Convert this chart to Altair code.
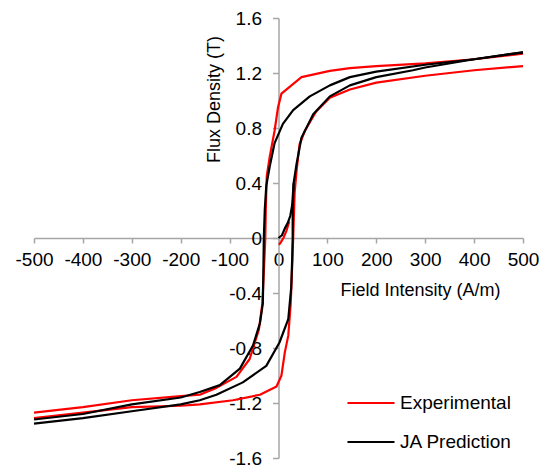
import altair as alt
import pandas as pd

# ---- data (H in A/m, B in T) ----
red_desc_H = [500, 400, 300, 200, 146, 105, 47, 6, -1, -8, -18, -24, -26, -27, -30, -33, -40, -59, -86, -127, -161, -200, -300, -400, -500]
red_desc_B = [1.34, 1.30, 1.27, 1.25, 1.235, 1.215, 1.17, 1.05, 0.95, 0.78, 0.59, 0.45, 0.21, 0.0, -0.25, -0.475, -0.665, -0.88, -1.01, -1.09, -1.14, -1.15, -1.18, -1.23, -1.27]

red_asc_H = [-500, -400, -300, -200, -161, -93, -38, -4, 6, 13, 20, 25, 28, 30, 33, 37, 43, 54, 77, 105, 146, 200, 300, 400, 500]
red_asc_B = [-1.31, -1.27, -1.23, -1.22, -1.21, -1.18, -1.14, -1.08, -1.0, -0.83, -0.71, -0.475, -0.2, 0.0, 0.33, 0.49, 0.68, 0.78, 0.92, 1.02, 1.08, 1.13, 1.18, 1.22, 1.25]

red_init_H = [1, 5, 10, 16, 22]
red_init_B = [-0.05, -0.03, 0.0, 0.05, 0.12]

ja_desc_H = [500, 400, 300, 200, 146, 105, 64, 30, 9, -8, -18, -25, -28, -30, -31, -32, -38, -52, -79, -120, -161, -200, -300, -400, -500]
ja_desc_B = [1.35, 1.30, 1.26, 1.21, 1.17, 1.11, 1.03, 0.93, 0.83, 0.69, 0.52, 0.38, 0.21, 0.0, -0.25, -0.475, -0.62, -0.78, -0.95, -1.07, -1.12, -1.16, -1.21, -1.28, -1.32]

ja_asc_H = [-500, -400, -300, -200, -161, -127, -73, -25, 2, 20, 26, 28, 29, 29, 31, 37, 47, 71, 105, 146, 200, 275, 300, 400, 500]
ja_asc_B = [-1.35, -1.31, -1.26, -1.21, -1.18, -1.14, -1.05, -0.93, -0.76, -0.59, -0.36, -0.15, 0.0, 0.2, 0.40, 0.54, 0.73, 0.90, 1.03, 1.11, 1.17, 1.22, 1.24, 1.30, 1.35]

ja_init_H = [0, 7, 13, 19, 24, 28, 31]
ja_init_B = [0.0, 0.02, 0.07, 0.11, 0.16, 0.24, 0.40]

series_names = ["Experimental", "JA Prediction"]
series_colors = ["#ff0000", "#000000"]

x_ticks = [-500, -400, -300, -200, -100, 0, 100, 200, 300, 400, 500]
y_ticks = [-1.6, -1.2, -0.8, -0.4, 0, 0.4, 0.8, 1.2, 1.6]

curves = [
    ("Experimental", "red_desc", red_desc_H, red_desc_B),
    ("Experimental", "red_asc", red_asc_H, red_asc_B),
    ("Experimental", "red_init", red_init_H, red_init_B),
    ("JA Prediction", "ja_desc", ja_desc_H, ja_desc_B),
    ("JA Prediction", "ja_asc", ja_asc_H, ja_asc_B),
    ("JA Prediction", "ja_init", ja_init_H, ja_init_B),
]
rows = []
k = 0
for s, seg, hs, bs in curves:
    for h, b in zip(hs, bs):
        rows.append({"series": s, "seg": seg, "H": h, "B": b, "i": k})
        k += 1
df = pd.DataFrame(rows)

W, H = 489, 440
FONT = "Liberation Sans"
AX = "#a6a6a6"

chart = alt.Chart(df).mark_line(strokeWidth=2.2, strokeJoin="round").encode(
    x=alt.X("H:Q", scale=alt.Scale(domain=[-500, 500], nice=False, zero=False),
            axis=alt.Axis(values=x_ticks, offset=-H / 2, orient="bottom", grid=False,
                          title="Field Intensity (A/m)", titleX=386, titleY=52,
                          titleAlign="center", titleBaseline="middle",
                          titleFontSize=18, titleFontWeight="normal",
                          labelExpr="'' + datum.value", labelPadding=7,
                          labelOverlap=False, labelFlush=False,
                          tickSize=5)),
    y=alt.Y("B:Q", scale=alt.Scale(domain=[-1.6, 1.6], nice=False, zero=False),
            axis=alt.Axis(values=y_ticks, offset=-W / 2, orient="left", grid=False,
                          title="Flux Density (T)", titleX=-64, titleY=81,
                          titleAngle=-90, titleAlign="center", titleBaseline="middle",
                          titleFontSize=18, titleFontWeight="normal",
                          labelExpr="'' + datum.value", labelPadding=11,
                          labelOverlap=False, labelFlush=False,
                          tickSize=6)),
    color=alt.Color("series:N",
                    scale=alt.Scale(domain=series_names, range=series_colors),
                    legend=alt.Legend(title=None, orient="none", legendX=312, legendY=360,
                                      symbolType="stroke", symbolSize=2209,
                                      symbolStrokeWidth=2.2, labelFontSize=19,
                                      labelFont=FONT, labelOffset=4, padding=0,
                                      rowPadding=4)),
    detail="seg:N",
    order="i:Q",
).properties(
    width=W, height=H,
    autosize=alt.AutoSizeParams(type="none"),
    padding={"left": 26, "top": 10, "right": 16, "bottom": 10},
).configure_view(stroke=None).configure_axis(
    domainColor=AX, tickColor=AX, domainWidth=1.5, tickWidth=1.5,
    labelFont=FONT, titleFont=FONT, labelFontSize=19, labelColor="#000000",
    titleColor="#000000",
)

chart.save("out.html", embed_options={"renderer": "svg", "actions": False})
